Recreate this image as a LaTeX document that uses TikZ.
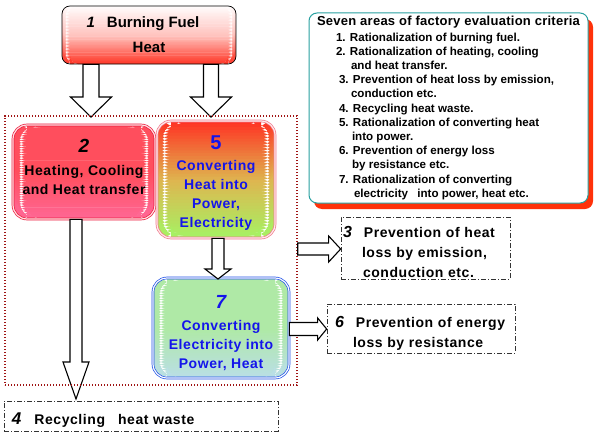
\documentclass[tikz,border=0pt]{standalone}
\usepackage{fontspec}
\setmainfont{Liberation Sans}
\newfontfamily\widefont[LetterSpace=4]{Liberation Sans}
\newfontfamily\titlefont[LetterSpace=2]{Liberation Sans}
\usetikzlibrary{calc,shadows}
\definecolor{fuelTop}{RGB}{255,252,252}
\definecolor{fuelMid}{RGB}{255,195,190}
\definecolor{fuelRed}{RGB}{255,52,36}
\definecolor{heatPink}{RGB}{255,104,150}
\definecolor{convOrange}{RGB}{222,182,80}
\definecolor{convGreen}{RGB}{164,244,100}
\definecolor{elecBlue}{RGB}{186,222,232}
\definecolor{rimRed}{RGB}{235,25,60}
\definecolor{rimPink}{RGB}{240,120,140}
\definecolor{rimBlue}{RGB}{30,80,230}
\definecolor{textBlue}{RGB}{20,20,235}
\definecolor{frameRed}{RGB}{160,20,20}
\definecolor{critTeal}{RGB}{40,160,160}
\definecolor{critShadow}{RGB}{255,50,10}
\newcommand{\numfont}{\bfseries\itshape}
% tail, tip, half shaft, half head, head length
\newcommand{\fatarrow}[5]{%
  \coordinate (fah) at ($(#2)!#5!(#1)$);
  \draw[fat] ($(#1)!#3!90:(#2)$) -- ($(fah)!#3!90:(#2)$) -- ($(fah)!#4!90:(#2)$) -- (#2)
    -- ($(fah)!#4!-90:(#2)$) -- ($(fah)!#3!-90:(#2)$) -- ($(#1)!#3!-90:(#2)$) -- cycle;}

\begin{document}
\begin{tikzpicture}[x=1pt,y=1pt,
  box/.style={align=center,inner sep=0pt,line width=0.7pt},
  rim/.style={double=#1,double distance=1.2pt},
  % corner radius, top, middle, bottom colour; strips are inset at the corners
  grad/.style n args={4}{path picture={
    \pgfpointdiff{\pgfpointanchor{path picture bounding box}{south}}{\pgfpointanchor{path picture bounding box}{north}}
    \pgfgetlastxy{\dx}{\dy}
    \pgfmathsetmacro\hh{\dy}
    \foreach \i in {0,...,39}{
      \pgfmathsetmacro\f{\i/40}
      \pgfmathsetmacro\g{min((\i+1.2)/40,1)}
      \pgfmathsetmacro\dd{\i<20 ? \f*\hh : max(\hh-\g*\hh,0)}
      \pgfmathsetmacro\ee{min(\dd,#1)}
      \pgfmathsetmacro\ins{#1-sqrt(#1*#1-(#1-\ee)*(#1-\ee))}
      \pgfmathtruncatemacro\p{100-5*mod(\i,20)}
      \ifnum\i<20 \def\ca{#2}\def\cb{#3}\else\def\ca{#3}\def\cb{#4}\fi
      \fill[\ca!\p!\cb] ($(path picture bounding box.north west)!\f!(path picture bounding box.south west)+(\ins,0)$)
        rectangle ($(path picture bounding box.north east)!\g!(path picture bounding box.south east)-(\ins,0)$);}}},
  note/.style={draw=black!80,line width=0.7pt,dash pattern=on 5pt off 2pt on 1pt off 2pt,
               align=left,inner ysep=0pt,font=\widefont\bfseries\fontsize{14}{20}\selectfont},
  fat/.style={draw=black,fill=white,line width=1.1pt,line join=miter},
  grp/.style={draw=frameRed,line width=1.4pt,dash pattern=on 1.4pt off 1.6pt}]
\useasboundingbox (0,0) rectangle (599,-436);

\node[box,rounded corners=8pt,draw=black,grad={8}{fuelTop}{fuelMid}{fuelRed},
      minimum width=174pt,minimum height=58pt,font=\bfseries\fontsize{15}{25}\selectfont] (b1) at (149,-35)
  {{\numfont 1}\hspace{12pt}Burning Fuel\hspace*{12pt}\\Heat};
\node[box,rounded corners=14pt,draw=rimRed,rim=pink!40,grad={14}{fuelRed}{fuelRed!50!heatPink}{heatPink},
      minimum width=142pt,minimum height=94pt,font=\widefont\bfseries\fontsize{14}{19}\selectfont] (b2) at (84,-172)
  {{\fontsize{19}{19}\selectfont\numfont 2}\\[4pt]Heating, Cooling\\and Heat transfer\rule[-10pt]{0pt}{1pt}};
\node[box,rounded corners=14pt,draw=rimPink,rim=pink!30,grad={14}{fuelRed}{convOrange}{convGreen},
      minimum width=118pt,minimum height=117pt,text=textBlue,font=\widefont\bfseries\fontsize{14}{19}\selectfont] (b5) at (216,-179.5)
  {\rule{0pt}{20pt}{\fontsize{20}{20}\selectfont 5}\\[2pt]Converting\\Heat into\\Power,\\Electricity};
\node[box,rounded corners=14pt,draw=rimBlue,rim=white,grad={14}{convGreen}{convGreen!50!elecBlue}{elecBlue},
      minimum width=136pt,minimum height=100pt,text=textBlue,font=\widefont\bfseries\fontsize{14}{19}\selectfont] (b7) at (221,-328)
  {\rule{0pt}{23pt}{\fontsize{19}{19}\selectfont\numfont 7}\\[3pt]Converting\\Electricity into\\Power, Heat};

\node[note,text width=165pt,inner xsep=2pt,minimum height=62pt] (b3) at (425.5,-248)
  {\rule{0pt}{20pt}{\numfont\fontsize{16}{16}\selectfont 3}\hspace{12pt}Prevention of heat\\\hspace*{19pt}loss by emission,\\\hspace*{20pt}conduction etc.};
\node[note,text width=172pt,inner xsep=8pt,minimum height=49pt] (b6) at (421,-328.5)
  {\rule{0pt}{20pt}{\numfont\fontsize{16}{16}\selectfont 6}\hspace{12pt}Prevention of energy\\\hspace*{18pt}loss by resistance};
\node[note,text width=258pt,inner xsep=8pt,minimum height=30pt] (b4) at (141,-416)
  {\rule{0pt}{20pt}{\numfont\fontsize{17}{17}\selectfont 4}\hspace{13pt}Recycling\hspace{13pt}heat waste};

\node[draw=critTeal,line width=1pt,fill=white,rounded corners=8pt,minimum width=279pt,minimum height=190pt,
      drop shadow={shadow xshift=5pt,shadow yshift=-6pt,fill=critShadow,opacity=1},
      align=left,inner sep=0pt,font=\bfseries\fontsize{11.6}{14.2}\selectfont] (crit) at (448.5,-108)
  {{\titlefont\fontsize{13}{14.2}\selectfont Seven areas of factory evaluation criteria}\\[1pt]
   \hspace*{19pt}1. Rationalization of burning fuel.\\
   \hspace*{19pt}2. Rationalization of heating, cooling\\
   \hspace*{34pt}and heat transfer.\\
   \hspace*{22pt}3. Prevention of heat loss by emission,\\
   \hspace*{34pt}conduction etc.\\
   \hspace*{22pt}4. Recycling heat waste.\\
   \hspace*{22pt}5. Rationalization of converting heat\\
   \hspace*{35pt}into power.\\
   \hspace*{22pt}6. Prevention of energy loss\\
   \hspace*{35pt}by resistance etc.\\
   \hspace*{22pt}7. Rationalization of converting\\
   \hspace*{37pt}electricity\hspace{6pt} into power, heat etc.};

\coordinate (t1) at (91,-117);
\coordinate (s1) at (b1.south -| t1);
\coordinate (t2) at (211,-117);
\coordinate (s2) at (b1.south -| t2);
\coordinate (t3) at (76,-399);
\coordinate (s3) at (b2.south -| t3);
\coordinate (t4) at (218,-279);
\coordinate (s4) at (b5.south -| t4);
\fatarrow{s1}{t1}{8pt}{20.5pt}{20pt}
\fatarrow{s2}{t2}{7.5pt}{20.5pt}{20pt}
\fatarrow{s3}{t3}{6pt}{13pt}{37pt}
\fatarrow{s4}{t4}{6pt}{13pt}{10pt}

\node[grp,minimum width=292pt,minimum height=269pt] (grp) at (151,-250.5) {};

\coordinate (t5) at (b3.west |- 0,-249);
\coordinate (s5) at (grp.east |- t5);
\coordinate (t6) at (b6.west |- 0,-329);
\coordinate (s6) at (b7.east |- t6);
\fatarrow{s5}{t5}{6pt}{13pt}{12pt}
\fatarrow{s6}{t6}{6.5pt}{11pt}{9pt}
\end{tikzpicture}
\end{document}
